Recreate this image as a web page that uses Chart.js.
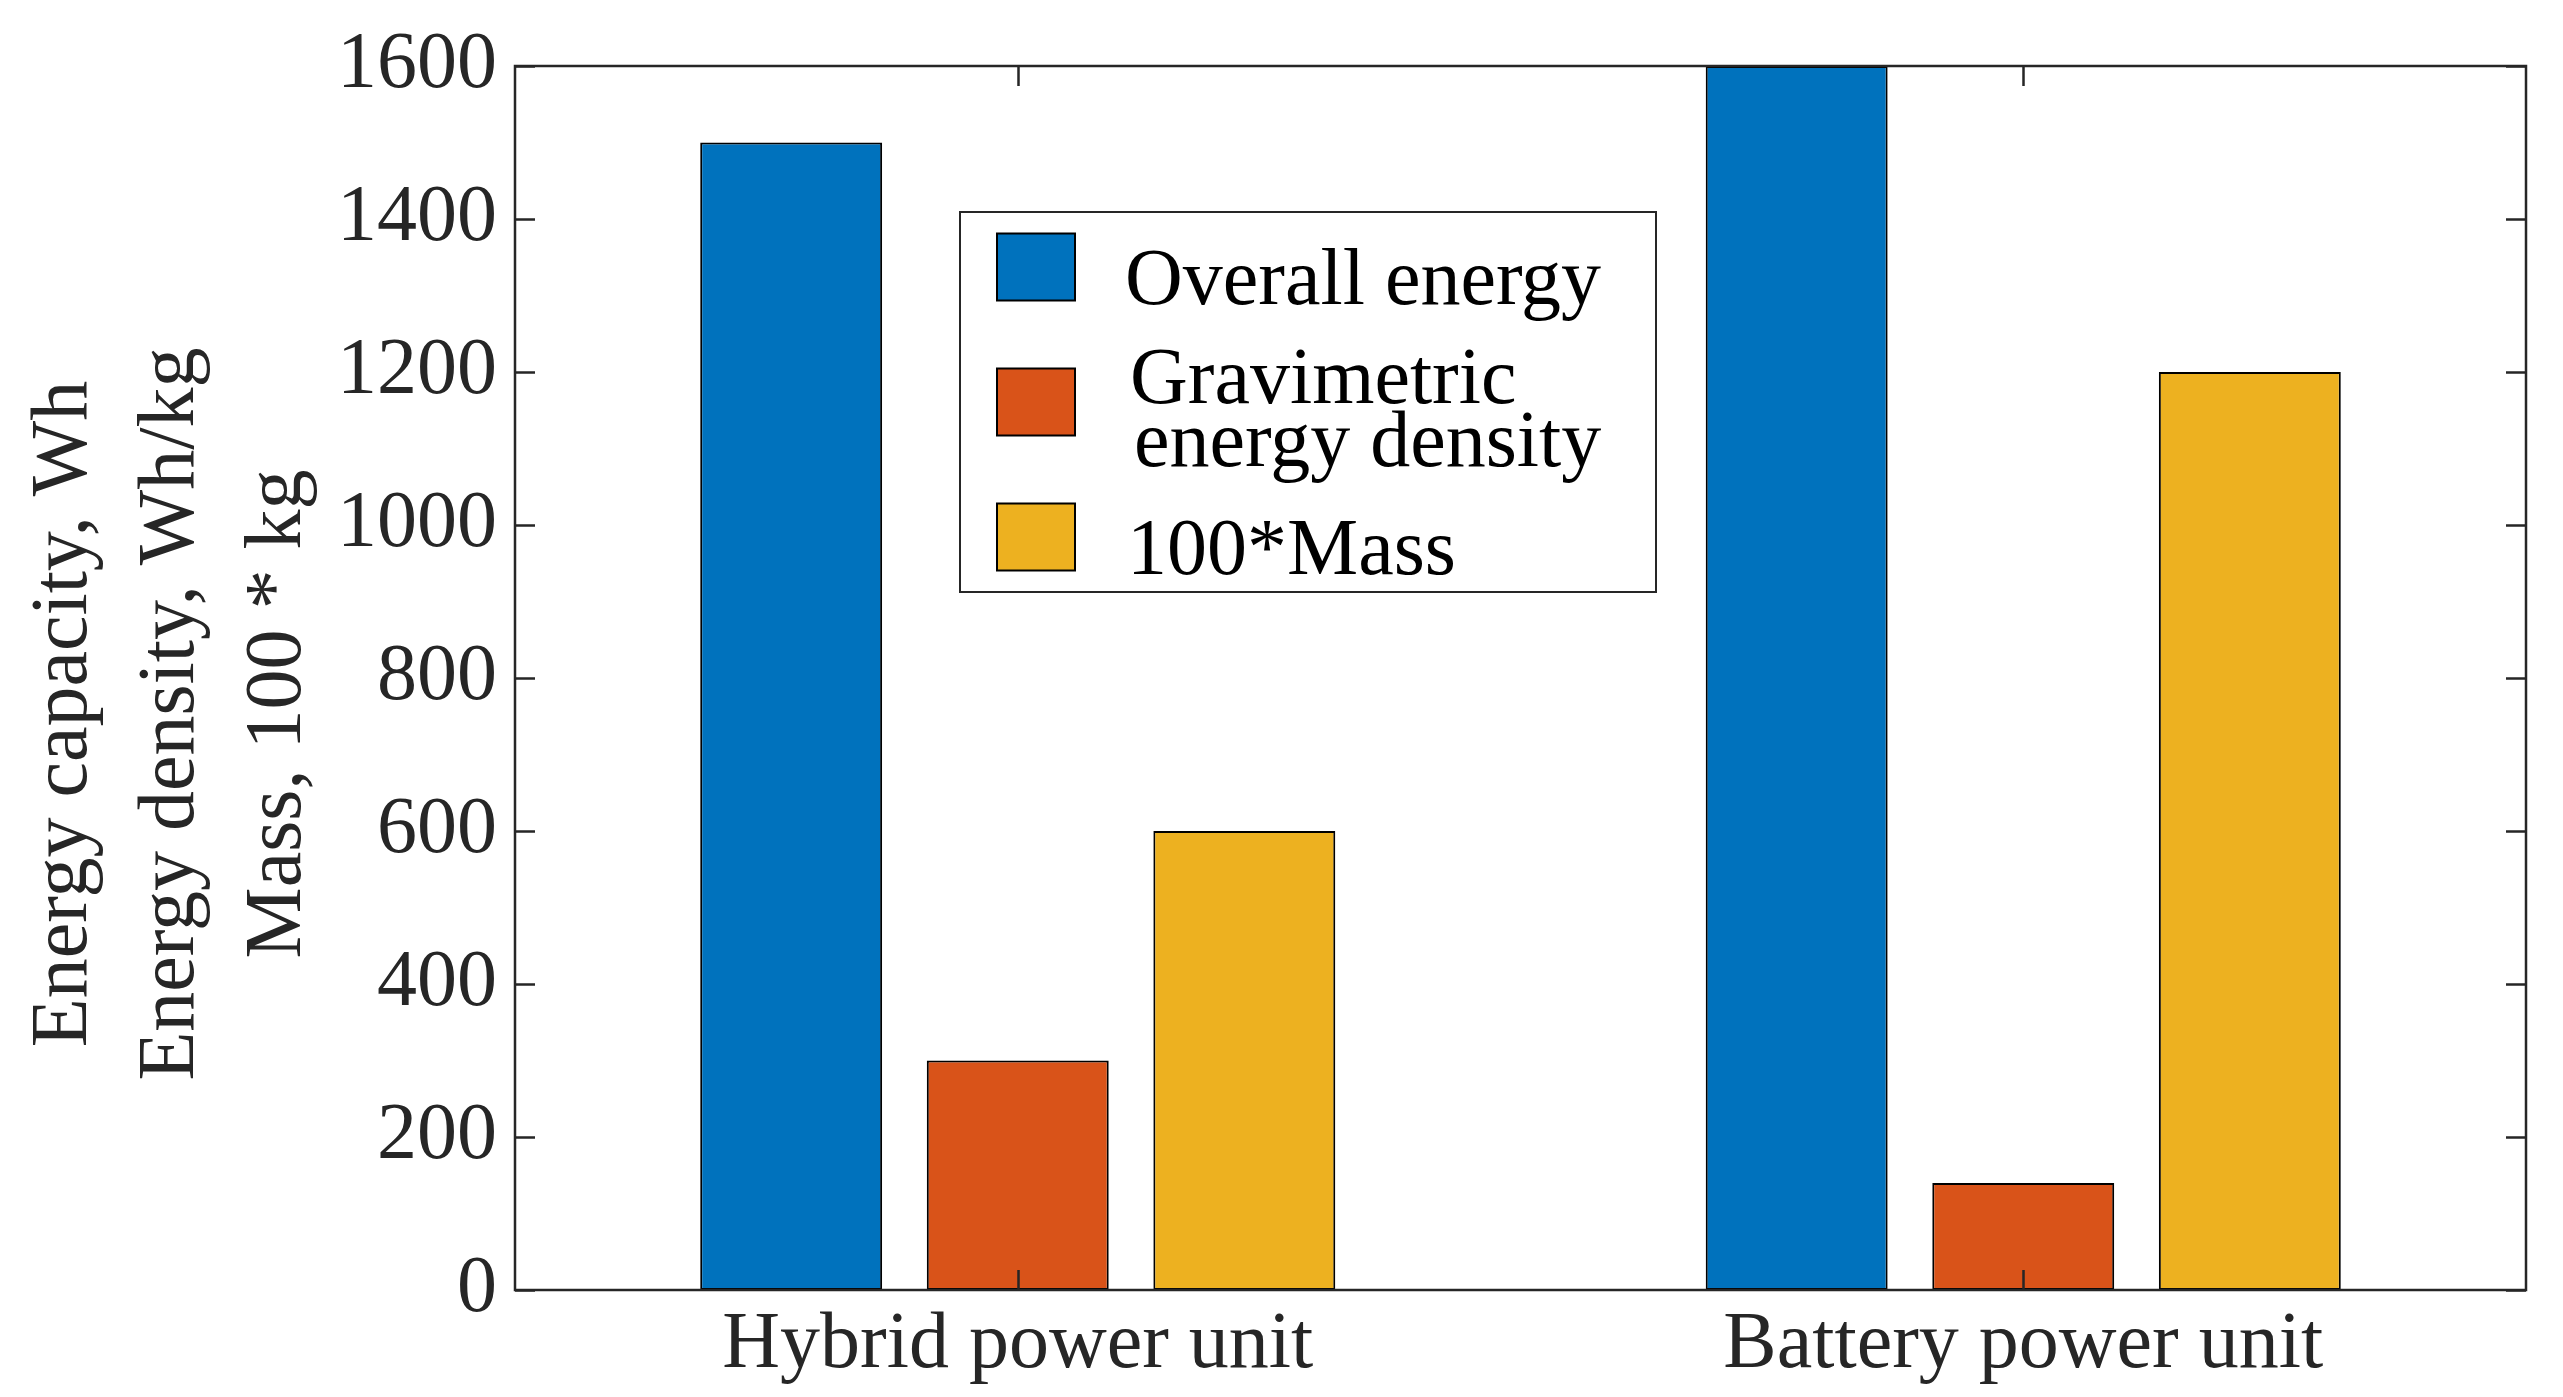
<!DOCTYPE html>
<html>
<head>
<meta charset="utf-8">
<script src="https://cdn.jsdelivr.net/npm/chart.js@4.4.1/dist/chart.umd.min.js"></script>
<style>
  html, body { margin: 0; padding: 0; background: #ffffff; }
  #wrap { width: 2563px; height: 1397px; position: relative; }
  canvas { display: block; }
</style>
</head>
<body>
<div id="wrap"><canvas id="c" width="2563" height="1397" style="width:2563px;height:1397px"></canvas></div>
<script>
// ---- data ----
const categories = ['Hybrid power unit', 'Battery power unit'];
const seriesNames = ['Overall energy', 'Gravimetric\nenergy density', '100*Mass'];
const overallEnergy = [1500, 1600];
const gravimetricDensity = [300, 140];
const massTimes100 = [600, 1200];
const yTicks = [0, 200, 400, 600, 800, 1000, 1200, 1400, 1600];
const yTitleLines = ['Energy capacity, Wh', 'Energy density, Wh/kg', 'Mass, 100 * kg'];

// ---- styles ----
const colors = ['#0072BD', '#D95319', '#EDB120'];
const FONT = '"Liberation Serif", "Times New Roman", serif';
const AXC = '#262626';

const framePlugin = {
  id: 'framePlugin',
  afterDatasetsDraw(chart) {
    const ctx = chart.ctx;
    const a = chart.chartArea;
    const ys = chart.scales.y, xs = chart.scales.x;
    ctx.save();
    ctx.strokeStyle = AXC;
    ctx.lineWidth = 2.5;
    ctx.lineCap = 'butt';
    // ticks (inward)
    ctx.beginPath();
    yTicks.forEach(v => {
      const y = Math.round(ys.getPixelForValue(v)) + 0.5;
      ctx.moveTo(a.left, y); ctx.lineTo(a.left + 20, y);
      ctx.moveTo(a.right, y); ctx.lineTo(a.right - 20, y);
    });
    categories.forEach((c, i) => {
      const x = Math.round(xs.getPixelForValue(i)) + 0.5;
      ctx.moveTo(x, a.bottom); ctx.lineTo(x, a.bottom - 20);
      ctx.moveTo(x, a.top); ctx.lineTo(x, a.top + 20);
    });
    ctx.stroke();
    // frame
    ctx.strokeRect(a.left, a.top, a.right - a.left, a.bottom - a.top);
    ctx.restore();
  },
  afterDraw(chart) {
    const ctx = chart.ctx;
    ctx.save();
    // y title
    ctx.fillStyle = AXC;
    ctx.font = '80px ' + FONT;
    ctx.textAlign = 'center';
    ctx.textBaseline = 'alphabetic';
    const baseX = [86, 193, 300];
    yTitleLines.forEach((t, i) => {
      ctx.save();
      ctx.translate(baseX[i], 714);
      ctx.rotate(-Math.PI / 2);
      ctx.fillText(t, 0, 0);
      ctx.restore();
    });
    // legend
    const bx = 960, by = 212, bw = 696, bh = 380;
    ctx.fillStyle = '#ffffff';
    ctx.fillRect(bx, by, bw, bh);
    ctx.strokeStyle = AXC;
    ctx.lineWidth = 2;
    ctx.strokeRect(bx, by, bw, bh);
    const sqCenters = [267, 402, 537];
    const textX = [[1125], [1130, 1134], [1127]];
    const baselines = [[304], [403, 466], [574]];
    chart.data.datasets.forEach((ds, i) => {
      const cy = sqCenters[i];
      ctx.fillStyle = ds.backgroundColor;
      ctx.fillRect(997, cy - 33.5, 78, 67);
      ctx.strokeStyle = '#000';
      ctx.lineWidth = 2;
      ctx.strokeRect(997, cy - 33.5, 78, 67);
      ctx.fillStyle = '#000';
      ctx.textAlign = 'left';
      ctx.font = '80px ' + FONT;
      seriesNames[i].split('\n').forEach((line, k) => {
        ctx.fillText(line, textX[i][k], baselines[i][k]);
      });
    });
    ctx.restore();
  }
};

const datasets = [overallEnergy, gravimetricDensity, massTimes100].map((d, i) => ({
  label: seriesNames[i].replace('\n', ' '),
  data: d,
  backgroundColor: colors[i],
  borderColor: '#000000',
  borderWidth: 2,
  borderSkipped: false,
  categoryPercentage: 0.676,
  barPercentage: 0.803
}));

new Chart(document.getElementById('c'), {
  type: 'bar',
  data: { labels: categories, datasets },
  options: {
    responsive: false,
    animation: false,
    devicePixelRatio: 1,
    layout: { padding: { left: 0, top: 61, right: 37, bottom: 0 } },
    plugins: { legend: { display: false }, tooltip: { enabled: false } },
    scales: {
      x: {
        type: 'category',
        offset: true,
        grid: { display: false, drawTicks: false, tickLength: 0 },
        border: { display: false },
        ticks: { color: AXC, font: { family: FONT, size: 80 }, padding: 8, maxRotation: 0 },
        afterFit(axis) { axis.height = 107; }
      },
      y: {
        min: 0, max: 1600,
        grid: { display: false, drawTicks: false, tickLength: 0 },
        border: { display: false },
        ticks: {
          stepSize: 200, color: AXC, font: { family: FONT, size: 80 }, padding: 18,
          callback: (v) => yTicks.includes(v) ? String(v) : ''
        },
        afterFit(axis) { axis.width = 515; }
      }
    }
  },
  plugins: [framePlugin]
});
</script>
</body>
</html>
